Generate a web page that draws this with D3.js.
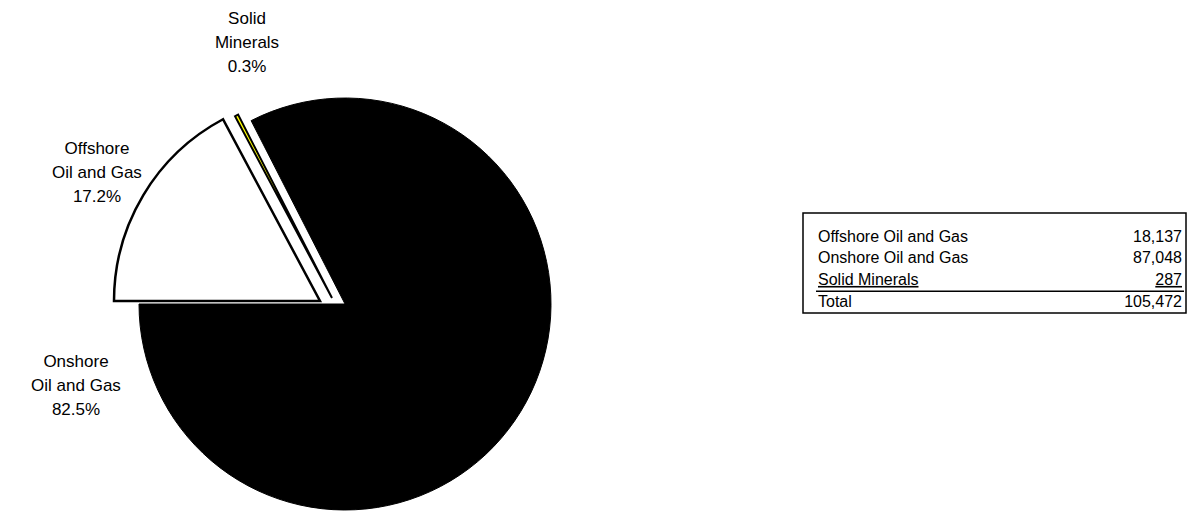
<!DOCTYPE html>
<html>
<head>
<meta charset="utf-8">
<script src="https://cdn.jsdelivr.net/npm/d3@7"></script>
<style>
  html, body { margin: 0; padding: 0; background: #fff; }
  svg { display: block; font-family: "Liberation Sans", Arial, sans-serif; }
</style>
</head>
<body>
<svg id="chart" width="1204" height="512"></svg>
<script>
// Revenue by source
const categories = ["Offshore Oil and Gas", "Onshore Oil and Gas", "Solid Minerals"];
const values = [18137, 87048, 287];
const labelLines = [["Offshore", "Oil and Gas"], ["Onshore", "Oil and Gas"], ["Solid", "Minerals"]];
const sliceColors = ["#ffffff", "#000000", "#ffff00"];
const totalLabel = "Total";

const total = d3.sum(values);
const pct = d3.format(".1%");
const num = d3.format(",");

const svg = d3.select("#chart");

// Clockwise from 9 o'clock: offshore, solid minerals, onshore
const drawOrder = [0, 2, 1];
const pie = d3.pie()
  .value(i => values[i])
  .sort(null)
  .startAngle(-Math.PI / 2)
  .endAngle(1.5 * Math.PI);
const arcsData = pie(drawOrder);

const radius = 206;
const arc = d3.arc().innerRadius(0).outerRadius(radius);

// exploded slice centres
const centres = { 0: [320, 301], 2: [332, 298], 1: [345, 304] };
const strokeW = { 0: 2.5, 2: 2, 1: 1 };

svg.append("g").selectAll("path")
  .data(arcsData)
  .join("path")
  .attr("transform", d => `translate(${centres[d.data][0]},${centres[d.data][1]})`)
  .attr("d", arc)
  .attr("fill", d => sliceColors[d.data])
  .attr("stroke", "#000")
  .attr("stroke-width", d => strokeW[d.data])
  .attr("stroke-linejoin", "miter");

// slice labels
const labelPos = { 0: [97, 148], 1: [76, 361], 2: [247, 18] };
const lineH = 24;
const labels = svg.append("g").attr("font-size", 17).attr("fill", "#000");
categories.forEach((c, i) => {
  const lines = labelLines[i].concat([pct(values[i] / total)]);
  const t = labels.append("text")
    .attr("text-anchor", "middle")
    .attr("x", labelPos[i][0])
    .attr("y", labelPos[i][1]);
  lines.forEach((ln, k) => {
    t.append("tspan")
      .attr("x", labelPos[i][0])
      .attr("y", labelPos[i][1] + k * lineH)
      .attr("dy", "0.35em")
      .text(ln);
  });
});

// data table
const tbl = svg.append("g").attr("font-size", 16).attr("fill", "#000");
const box = { x: 803, y: 213, w: 383, h: 100 };
tbl.append("rect")
  .attr("x", box.x).attr("y", box.y).attr("width", box.w).attr("height", box.h)
  .attr("fill", "#fff").attr("stroke", "#000").attr("stroke-width", 1.5);

const rowY = d3.scalePoint().domain(d3.range(categories.length + 1)).range([236, 301]);
const textX = 818, valX = 1186 - 4;
categories.forEach((c, i) => {
  tbl.append("text").attr("x", textX).attr("y", rowY(i)).attr("dy", "0.35em").text(c)
    .attr("text-decoration", i === categories.length - 1 ? "underline" : null);
  tbl.append("text").attr("x", valX).attr("y", rowY(i)).attr("dy", "0.35em")
    .attr("text-anchor", "end").text(num(values[i]))
    .attr("text-decoration", i === categories.length - 1 ? "underline" : null);
});
const ruleY = (rowY(categories.length - 1) + rowY(categories.length)) / 2 + 1;
tbl.append("line").attr("x1", textX - 2).attr("x2", valX + 2)
  .attr("y1", ruleY).attr("y2", ruleY).attr("stroke", "#000").attr("stroke-width", 1.5);
tbl.append("text").attr("x", textX).attr("y", rowY(categories.length)).attr("dy", "0.35em").text(totalLabel);
tbl.append("text").attr("x", valX).attr("y", rowY(categories.length)).attr("dy", "0.35em")
  .attr("text-anchor", "end").text(num(total));
</script>
</body>
</html>
